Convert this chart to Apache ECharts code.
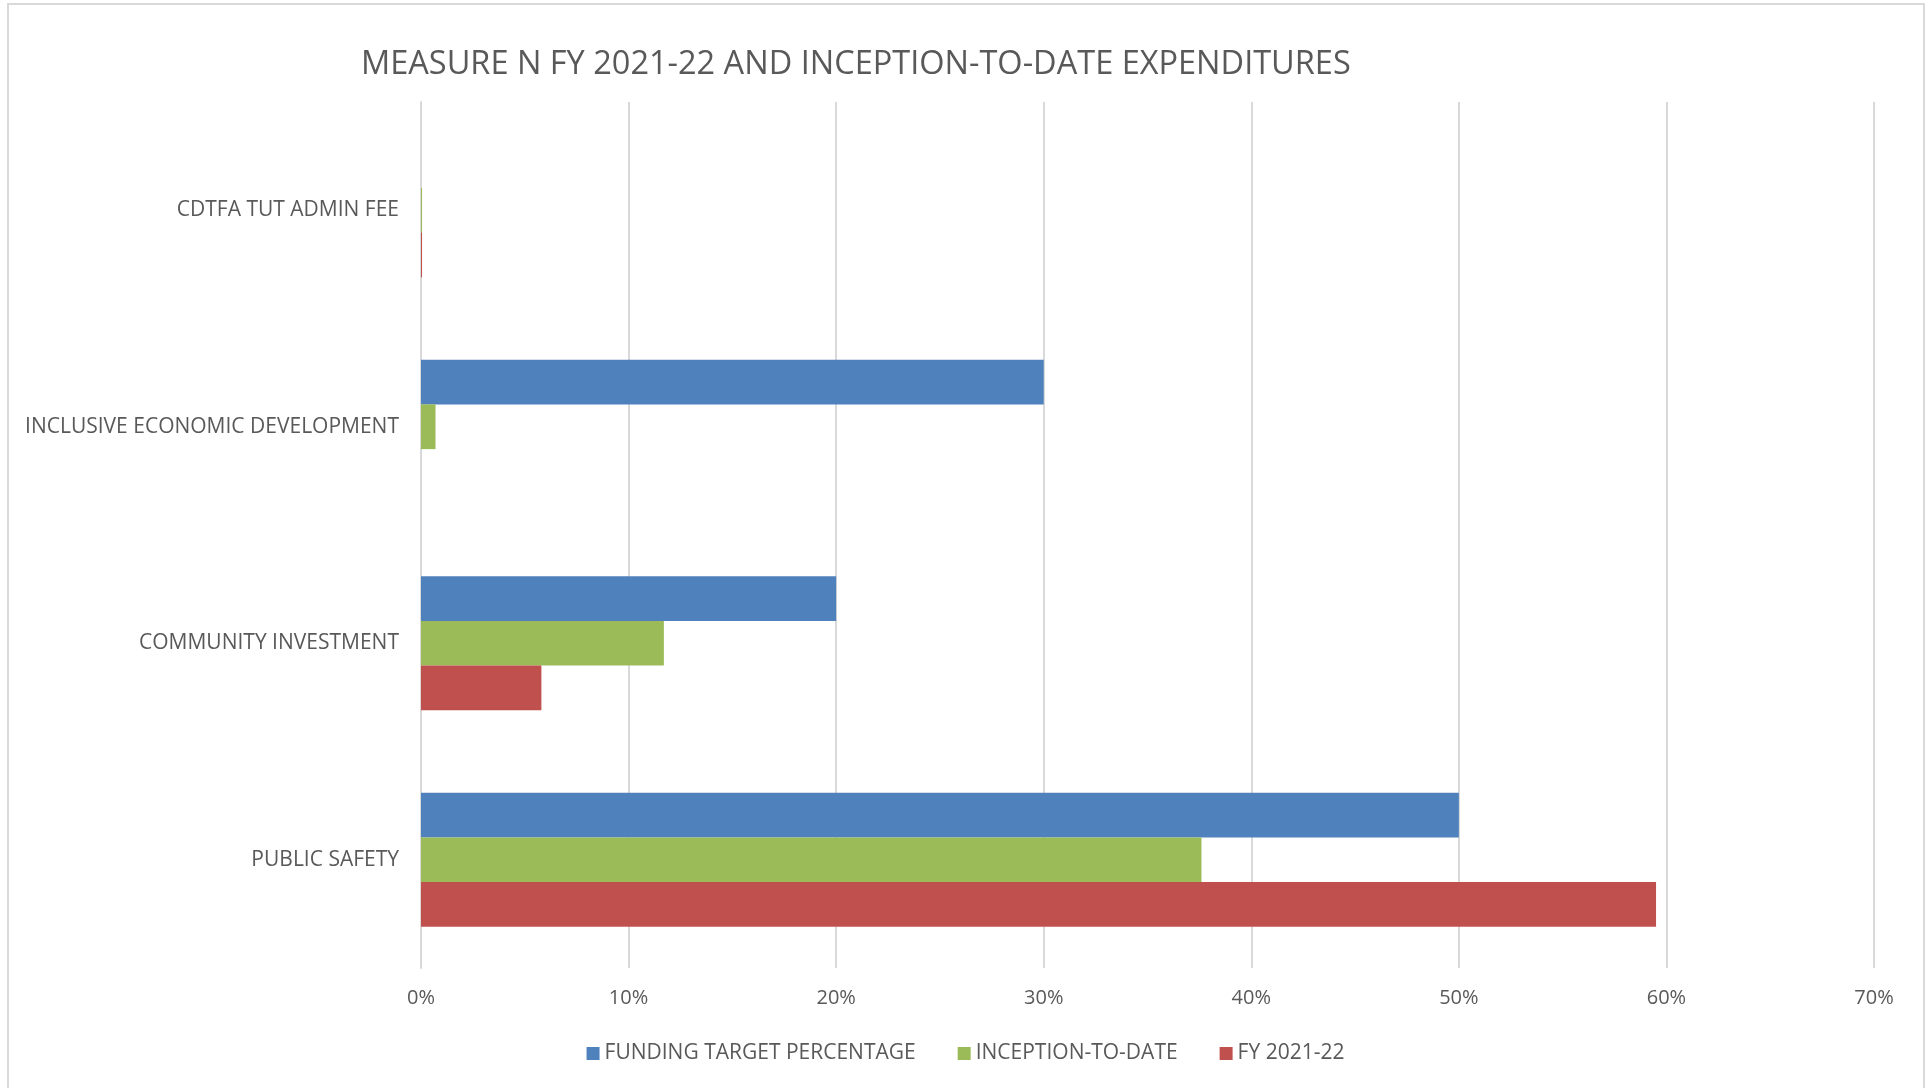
<!DOCTYPE html>
<html lang="en">
<head>
    <meta charset="UTF-8">
    <title>Measure N</title>
    <script src="https://cdn.jsdelivr.net/npm/echarts/dist/echarts.min.js"></script>
    <style>
        html, body { margin: 0; padding: 0; background: #fff; }
    </style>
</head>
<body>
<div id="chart1" style="width: 1931px;height:1088px;"></div>
</body>
<script type="text/javascript">
    // bottom to top, like the picture
    var categories = ['PUBLIC SAFETY', 'COMMUNITY INVESTMENT', 'INCLUSIVE ECONOMIC DEVELOPMENT', 'CDTFA TUT ADMIN FEE'];
    var fundingTarget = [50, 20, 30, 0];
    var inceptionToDate = [37.6, 11.7, 0.7, 0.05];
    var fy2122 = [59.5, 5.8, 0, 0.05];
    var xTicks = [0, 10, 20, 30, 40, 50, 60, 70];

    var chart1 = echarts.init(document.getElementById('chart1'));
    var txt = '#595959';
    var font = 'Open Sans';

    option = {
        backgroundColor: '#fff',
        animation: false,
        textStyle: { fontFamily: font },
        title: {
            text: 'MEASURE N FY 2021-22 AND INCEPTION-TO-DATE EXPENDITURES',
            left: 356,
            top: 43,
            textStyle: { color: txt, fontSize: 32.5, fontWeight: 'normal', fontFamily: font }
        },
        legend: {
            data: ['FUNDING TARGET PERCENTAGE', 'INCEPTION-TO-DATE', 'FY 2021-22'],
            left: 'center',
            top: 1038,
            icon: 'rect',
            itemWidth: 13,
            itemHeight: 13,
            itemGap: 42,
            textStyle: { color: txt, fontSize: 21, fontFamily: font }
        },
        graphic: [{
            type: 'rect',
            shape: { x: 8, y: 4, width: 1916, height: 1100 },
            style: { fill: 'none', stroke: '#d9d9d9', lineWidth: 2 },
            silent: true
        }],
        grid: { left: 421, right: 57, top: 102, bottom: 120 },
        xAxis: {
            type: 'value',
            min: xTicks[0],
            max: xTicks[xTicks.length - 1],
            interval: 10,
            axisLine: { show: false },
            axisTick: { show: false },
            splitLine: { lineStyle: { color: '#d9d9d9', width: 2 } },
            axisLabel: { color: txt, fontSize: 20, margin: 20, formatter: '{value}%' }
        },
        yAxis: {
            type: 'category',
            data: categories,
            axisLine: { show: true, lineStyle: { color: '#d9d9d9', width: 2 } },
            axisTick: { show: false },
            axisLabel: { color: txt, fontSize: 21, margin: 22 }
        },
        series: [
            { name: 'FUNDING TARGET PERCENTAGE', type: 'bar', data: fundingTarget, itemStyle: { color: '#4f81bd' }, barGap: '0%', barCategoryGap: '38%' },
            { name: 'INCEPTION-TO-DATE', type: 'bar', data: inceptionToDate, itemStyle: { color: '#9bbb59' }, barGap: '0%', barCategoryGap: '38%' },
            { name: 'FY 2021-22', type: 'bar', data: fy2122, itemStyle: { color: '#c0504d' }, barGap: '0%', barCategoryGap: '38%' }
        ]
    };
    chart1.setOption(option);
</script>
</html>
